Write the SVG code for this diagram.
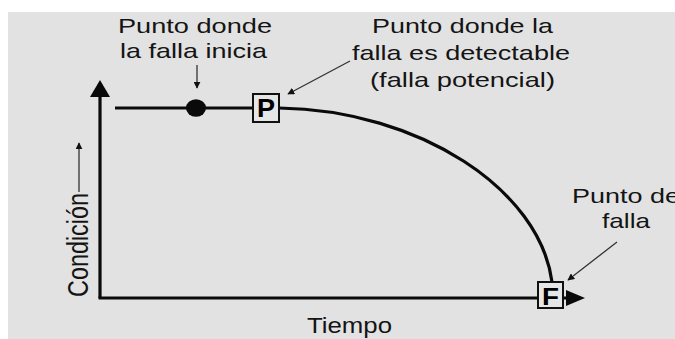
<svg xmlns="http://www.w3.org/2000/svg" width="675" height="339" viewBox="0 0 675 339">
<defs>
<style>
.t{font-family:"Liberation Sans",Arial,sans-serif;font-size:21px;fill:#141414}
.lbl{font-family:"Liberation Sans",Arial,sans-serif;font-weight:bold;fill:#000}
.thick{stroke:#0a0a0a;stroke-width:3.2;fill:none}
.thin{stroke:#333;stroke-width:1.3;fill:none}
.box{fill:#e6e6e6;stroke:#111;stroke-width:2}
</style>
<marker id="sm" viewBox="0 0 10 10" refX="9" refY="5" markerWidth="7" markerHeight="7" markerUnits="userSpaceOnUse" orient="auto">
<path d="M0,0 L10,5 L0,10 z" fill="#111"/>
</marker>
</defs>
<rect x="0" y="0" width="675" height="339" fill="#ffffff"/>
<rect x="8" y="12" width="667" height="327" fill="#e2e2e2"/>

<g id="axes">
<line class="thick" x1="100" y1="92" x2="100" y2="298"/>
<path d="M100,80 L110,97 L90,97 z" fill="#0a0a0a"/>
<line class="thick" x1="98.5" y1="298" x2="572" y2="298"/>
<path d="M585,298 L566,290 L566,306 z" fill="#0a0a0a"/>
</g>

<g id="connectors">
<line class="thick" x1="115" y1="108" x2="253" y2="108"/>
<path class="thick" d="M279,108 C420,110 540,190 552,282"/>
<line class="thin" x1="197" y1="65" x2="197" y2="88" marker-end="url(#sm)"/>
<line class="thin" x1="350" y1="61" x2="288" y2="94" marker-end="url(#sm)"/>
<line class="thin" x1="617" y1="242" x2="568" y2="280" marker-end="url(#sm)"/>
<line class="thin" x1="79" y1="192" x2="79" y2="143" marker-end="url(#sm)"/>
</g>

<g id="inicio">
<ellipse cx="196" cy="108" rx="10" ry="8.7" fill="#0a0a0a"/>
<text class="t" x="118" y="33" textLength="154" lengthAdjust="spacingAndGlyphs">Punto donde</text>
<text class="t" x="120" y="58" textLength="147" lengthAdjust="spacingAndGlyphs">la falla inicia</text>
</g>

<g id="potencial">
<rect class="box" x="253" y="94" width="26" height="28"/>
<text class="lbl" x="266" y="117" font-size="25" text-anchor="middle" textLength="18" lengthAdjust="spacingAndGlyphs">P</text>
<text class="t" x="372" y="33" textLength="181" lengthAdjust="spacingAndGlyphs">Punto donde la</text>
<text class="t" x="352" y="60" textLength="218" lengthAdjust="spacingAndGlyphs">falla es detectable</text>
<text class="t" x="370" y="87" textLength="185" lengthAdjust="spacingAndGlyphs">(falla potencial)</text>
</g>

<g id="falla">
<rect class="box" x="538" y="282" width="25" height="26"/>
<text class="lbl" x="550.5" y="305" font-size="24" text-anchor="middle" textLength="17" lengthAdjust="spacingAndGlyphs">F</text>
<text class="t" x="572" y="203" textLength="108" lengthAdjust="spacingAndGlyphs">Punto de</text>
<text class="t" x="602" y="228" textLength="48" lengthAdjust="spacingAndGlyphs">falla</text>
</g>

<g id="ejes-texto">
<text class="t" x="307" y="333" font-size="22" textLength="85" lengthAdjust="spacingAndGlyphs" style="font-size:22px">Tiempo</text>
<text class="t" transform="translate(88,297) scale(1.3,1) rotate(-90)" x="0" y="0" textLength="104" lengthAdjust="spacingAndGlyphs" style="font-size:23px">Condición</text>
</g>
</svg>
